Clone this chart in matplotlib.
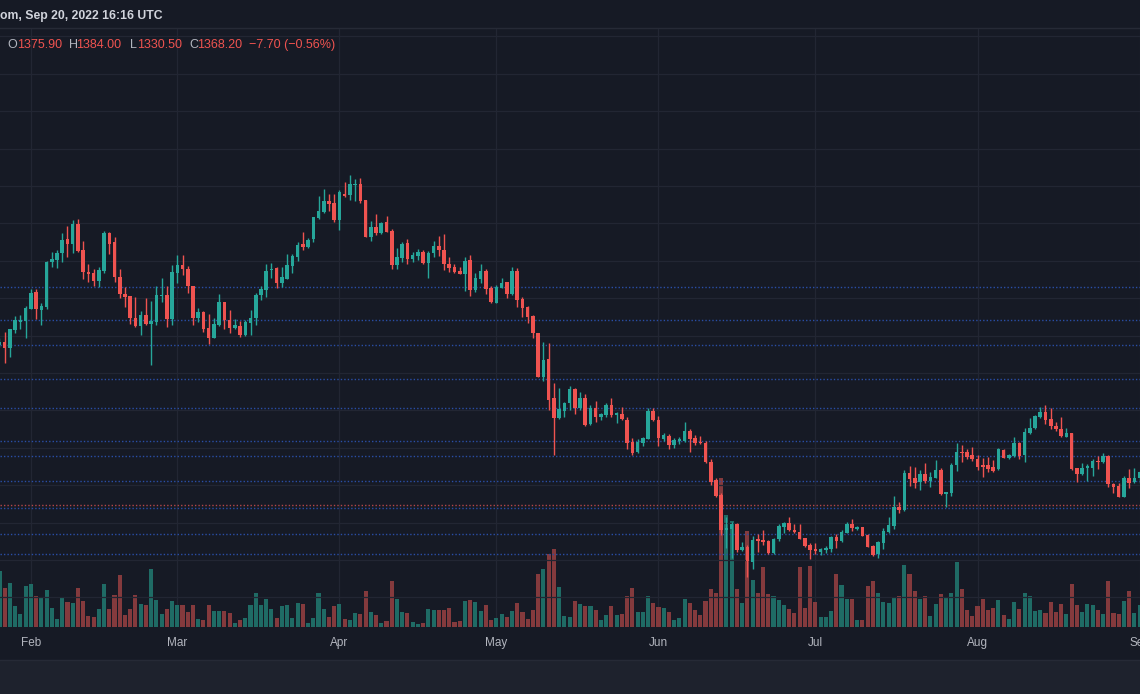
import matplotlib
matplotlib.use('Agg')
import matplotlib.pyplot as plt
from matplotlib.patches import Rectangle
import numpy as np
import pandas as pd

# ETH/USD daily, Jan 26 - Sep 1 2022
dates = pd.date_range('2022-01-26', '2022-09-01', freq='D')

opens = [2437, 2460, 2420, 2538, 2591, 2598, 2680, 2792, 2669, 2694, 2990, 3008, 3050, 3144, 3115, 3244, 3072, 2923, 2919, 2865,
         2932, 3184, 3126, 2892, 2776, 2763, 2620, 2564, 2638, 2575, 2593, 2765, 2774, 2611, 2916, 2970, 2945, 2832, 2616, 2660,
         2549, 2486, 2569, 2725, 2602, 2553, 2567, 2504, 2587, 2616, 2769, 2805, 2936, 2954, 2852, 2881, 2965, 3028, 3112, 3095,
         3144, 3284, 3324, 3398, 3386, 3273, 3449, 3438, 3507, 3516, 3404, 3159, 3224, 3184, 3259, 3202, 2974, 3017, 3119, 3012,
         3034, 3059, 2983, 3050, 3099, 3072, 2981, 2959, 2932, 2914, 3005, 2805, 2881, 2932, 2816, 2720, 2821, 2856, 2776, 2934,
         2743, 2691, 2631, 2515, 2221, 2341, 2081, 1947, 1998, 2047, 2143, 2014, 2085, 1909, 2014, 1954, 1969, 2036, 1972, 1974,
         1938, 1789, 1724, 1785, 1811, 1998, 1936, 1807, 1831, 1769, 1798, 1798, 1862, 1813, 1789, 1785, 1658, 1535, 1435, 1201,
         1205, 1239, 1067, 1089, 989, 1138, 1134, 1129, 1045, 1138, 1223, 1245, 1201, 1190, 1145, 1101, 1074, 1056, 1067, 1076,
         1152, 1129, 1183, 1241, 1210, 1219, 1167, 1094, 1038, 1112, 1185, 1227, 1357, 1335, 1579, 1546, 1519, 1575, 1530, 1548,
         1602, 1441, 1450, 1637, 1724, 1724, 1702, 1678, 1633, 1633, 1620, 1608, 1735, 1684, 1698, 1780, 1702, 1847, 1880, 1954,
         1987, 1940, 1898, 1878, 1825, 1849, 1613, 1575, 1617, 1617, 1664, 1658, 1695, 1508, 1495, 1424, 1551, 1524, 1551]
highs = [2482, 2522, 2544, 2631, 2638, 2700, 2809, 2812, 2720, 3001, 3057, 3072, 3188, 3233, 3273, 3277, 3135, 2981, 2943, 2961,
         3197, 3190, 3157, 2943, 2827, 2767, 2760, 2667, 2749, 2734, 2832, 2883, 2832, 2972, 3037, 3041, 2965, 2832, 2682, 2665,
         2642, 2616, 2776, 2727, 2671, 2609, 2600, 2604, 2671, 2787, 2834, 2979, 2983, 2961, 2961, 3046, 3046, 3124, 3190, 3150,
         3295, 3433, 3480, 3447, 3444, 3473, 3525, 3576, 3545, 3551, 3406, 3268, 3311, 3262, 3302, 3210, 3088, 3128, 3144, 3057,
         3077, 3072, 3068, 3132, 3166, 3179, 3028, 2976, 2961, 3023, 3037, 2916, 2976, 2945, 2834, 2838, 2883, 2856, 2961, 2950,
         2758, 2698, 2638, 2520, 2455, 2448, 2181, 2148, 2059, 2163, 2148, 2121, 2110, 2036, 2063, 1985, 2047, 2085, 1987, 2021,
         1958, 1818, 1807, 1825, 2014, 2014, 1963, 1847, 1840, 1813, 1825, 1920, 1874, 1834, 1831, 1798, 1678, 1546, 1450, 1290,
         1257, 1245, 1123, 1101, 1161, 1174, 1201, 1134, 1150, 1239, 1257, 1285, 1239, 1241, 1150, 1112, 1116, 1083, 1094, 1161,
         1174, 1201, 1257, 1274, 1227, 1223, 1174, 1101, 1127, 1212, 1290, 1428, 1390, 1602, 1629, 1624, 1602, 1646, 1591, 1669,
         1613, 1457, 1646, 1785, 1767, 1740, 1753, 1702, 1680, 1691, 1669, 1747, 1742, 1709, 1825, 1791, 1885, 1947, 1969, 2025,
         2036, 2018, 1925, 1958, 1880, 1849, 1617, 1646, 1642, 1673, 1695, 1718, 1702, 1517, 1513, 1562, 1606, 1617, 1595]
lows = [2426, 2319, 2359, 2520, 2542, 2482, 2676, 2611, 2569, 2676, 2961, 2954, 2994, 3028, 3054, 3061, 2876, 2856, 2834, 2827,
        2916, 3046, 2858, 2754, 2694, 2578, 2560, 2504, 2573, 2301, 2571, 2727, 2555, 2571, 2850, 2905, 2783, 2571, 2593, 2526,
        2444, 2482, 2564, 2544, 2520, 2542, 2493, 2500, 2504, 2571, 2738, 2760, 2883, 2816, 2823, 2876, 2916, 3001, 3072, 3083,
        3128, 3277, 3317, 3335, 3262, 3206, 3429, 3406, 3402, 3384, 3159, 3135, 3173, 3179, 3190, 2943, 2948, 2994, 2976, 2992,
        3005, 2979, 2883, 3028, 3032, 2939, 2927, 2916, 2910, 2800, 2765, 2794, 2854, 2778, 2720, 2716, 2816, 2754, 2771, 2689,
        2627, 2587, 2482, 2221, 2199, 2003, 1702, 1943, 1954, 2003, 1974, 2003, 1898, 1903, 1925, 1936, 1958, 1958, 1914, 1936,
        1740, 1702, 1718, 1762, 1807, 1932, 1762, 1798, 1740, 1751, 1776, 1791, 1724, 1767, 1776, 1651, 1502, 1424, 1167, 1078,
        1016, 1056, 1063, 884, 938, 1056, 1101, 1040, 1040, 1129, 1183, 1196, 1179, 1138, 1089, 1005, 1040, 1034, 1045, 1056,
        1078, 1123, 1179, 1196, 1201, 1161, 1085, 1029, 1011, 1074, 1179, 1205, 1317, 1330, 1495, 1479, 1468, 1517, 1490, 1546,
        1435, 1357, 1428, 1595, 1658, 1673, 1664, 1602, 1557, 1591, 1586, 1602, 1680, 1675, 1691, 1673, 1658, 1842, 1874, 1947,
        1909, 1874, 1865, 1820, 1825, 1602, 1524, 1568, 1530, 1562, 1606, 1651, 1490, 1446, 1419, 1419, 1479, 1513, 1513]
closes = [2460, 2420, 2542, 2604, 2604, 2687, 2787, 2676, 2698, 2992, 3012, 3052, 3137, 3115, 3244, 3066, 2925, 2912, 2865, 2936,
          3184, 3115, 2892, 2778, 2760, 2616, 2562, 2638, 2575, 2598, 2769, 2774, 2611, 2923, 2974, 2943, 2829, 2616, 2660, 2542,
          2486, 2578, 2725, 2604, 2553, 2569, 2504, 2589, 2620, 2774, 2812, 2934, 2948, 2850, 2892, 2970, 3034, 3106, 3095, 3141,
          3295, 3333, 3398, 3380, 3273, 3458, 3433, 3516, 3516, 3400, 3159, 3224, 3184, 3255, 3195, 2970, 3023, 3112, 3012, 3037,
          3059, 2983, 3054, 3099, 3072, 2979, 2952, 2925, 2914, 2999, 2805, 2887, 2934, 2812, 2722, 2823, 2850, 2776, 2934, 2740,
          2687, 2627, 2515, 2226, 2339, 2070, 1947, 2007, 2052, 2143, 2018, 2085, 1903, 2016, 1954, 1976, 2039, 1969, 1981, 1940,
          1785, 1718, 1791, 1816, 1998, 1936, 1818, 1834, 1769, 1802, 1809, 1860, 1807, 1785, 1780, 1653, 1524, 1428, 1201, 1212,
          1239, 1067, 1089, 996, 1134, 1129, 1123, 1045, 1143, 1227, 1245, 1201, 1187, 1141, 1096, 1067, 1058, 1072, 1083, 1152,
          1129, 1185, 1241, 1212, 1221, 1163, 1089, 1031, 1118, 1196, 1234, 1357, 1335, 1579, 1542, 1517, 1575, 1530, 1553, 1602,
          1439, 1453, 1635, 1724, 1715, 1686, 1678, 1624, 1620, 1608, 1597, 1740, 1684, 1702, 1780, 1698, 1856, 1885, 1963, 1987,
          1936, 1896, 1874, 1831, 1849, 1606, 1573, 1617, 1629, 1662, 1655, 1695, 1506, 1490, 1424, 1551, 1517, 1551, 1588]
volumes = [167, 117, 133, 62, 40, 123, 130, 92, 88, 112, 58, 23, 88, 75, 72, 118, 77, 32, 29, 55,
           128, 53, 97, 155, 35, 53, 97, 70, 65, 173, 80, 40, 55, 77, 65, 67, 45, 65, 23, 22,
           65, 47, 47, 48, 43, 13, 22, 28, 67, 103, 65, 85, 53, 27, 62, 67, 28, 72, 70, 13,
           27, 102, 53, 30, 62, 70, 25, 22, 43, 40, 107, 45, 35, 13, 17, 137, 83, 45, 43, 15,
           10, 13, 53, 50, 52, 50, 58, 15, 17, 77, 82, 74, 47, 65, 20, 27, 40, 30, 47, 73,
           45, 25, 52, 158, 173, 218, 233, 120, 32, 30, 78, 70, 62, 62, 50, 20, 35, 62, 35, 38,
           93, 118, 45, 45, 92, 73, 60, 57, 45, 22, 27, 83, 73, 52, 35, 77, 113, 102, 448, 335,
           317, 113, 72, 288, 140, 102, 180, 100, 93, 80, 65, 53, 43, 180, 57, 182, 75, 30, 30, 47,
           158, 125, 83, 83, 20, 22, 123, 137, 102, 75, 72, 88, 93, 185, 158, 108, 83, 92, 32, 70,
           100, 88, 103, 195, 113, 52, 32, 62, 85, 52, 58, 80, 35, 23, 75, 53, 103, 92, 48, 50,
           43, 75, 45, 70, 38, 130, 65, 45, 70, 67, 52, 38, 137, 43, 40, 77, 108, 43, 65]

levels = [2827, 2607, 2435, 2208, 2018, 1793, 1693, 1526, 1350, 1172, 1040]
last_close = 1368.20
month_labels = ['Feb', 'Mar', 'Apr', 'May', 'Jun', 'Jul', 'Aug', 'Sep']

bg = '#161a25'
up = '#26a69a'
down = '#ef5350'
up_vol = '#1f6b65'
down_vol = '#843a3d'
grid = '#222633'

W, H = 1140, 694
fig = plt.figure(figsize=(W / 100, H / 100), dpi=100)
fig.patch.set_facecolor(bg)

rect = [0, (H - 627) / H, 1, (627 - 28) / H]
vax = fig.add_axes(rect)
ax = fig.add_axes(rect)
vax.set_facecolor(bg)
ax.set_facecolor('none')

x = np.arange(len(dates))
o = np.array(opens, float)
c = np.array(closes, float)
hi = np.array(highs, float)
lo = np.array(lows, float)
rising = c >= o
cols = np.where(rising, up, down)

xlim = (0.1, 218.07)

# volume pane
vax.bar(x, volumes, width=0.78, color=np.where(rising, up_vol, down_vol), zorder=2)
vax.set_xlim(*xlim)
vax.set_ylim(0, 1797)

# grid
ax.set_xlim(*xlim)
ax.set_ylim(552.4, 4556.1)
for p in range(750, 4750, 250):
    ax.axhline(p, color=grid, lw=0.9, zorder=0)
first_days = [i for i, d in enumerate(dates) if d.day == 1]
for i in first_days:
    vax.axvline(i, color=grid, lw=0.9, zorder=0)

# levels
for lv in levels:
    ax.axhline(lv, color='#2a4ea6', lw=1.0, ls=(0, (1, 1.5)), zorder=1)
ax.axhline(last_close, color='#b5474a', lw=1.0, ls=(0, (1, 1.5)), zorder=1)

# candles
ax.vlines(x, lo, hi, colors=cols, lw=1.0, zorder=3)
body = np.maximum(np.abs(c - o), 6)
ax.bar(x, body, bottom=np.minimum(o, c), width=0.68, color=cols, zorder=4, linewidth=0)

for a in (ax, vax):
    for s in a.spines.values():
        s.set_visible(False)
    a.tick_params(left=False, right=False, labelleft=False, labelright=False)
vax.set_xticks([])
ax.set_xticks([])

# month labels on the time scale, baseline aligned
lab_y = -(646 - 627) / (627 - 28)
for i, lab in zip(first_days, month_labels):
    ax.text(i, lab_y, lab, transform=ax.get_xaxis_transform(), ha='center', va='baseline',
            fontsize=8.5, color='#b2b5be', family='Liberation Sans', clip_on=False)

# header and footer
fig.add_artist(plt.Line2D([0, 1], [1 - 28 / H, 1 - 28 / H], transform=fig.transFigure, color='#262a36', lw=1))
fig.add_artist(Rectangle((0, 0), 1, 34 / H, transform=fig.transFigure, color='#1e222d', zorder=0))
fig.add_artist(plt.Line2D([0, 1], [34 / H, 34 / H], transform=fig.transFigure, color='#262a36', lw=1))

fig.text(0, 1 - 16 / H, 'om, Sep 20, 2022 16:16 UTC', ha='left', va='center',
         color='#d1d4dc', fontsize=8.8, fontweight='bold', family='Liberation Sans')

pieces = [(7, 'O', '#b2b5be'), (17, '1375.90', down), (69, 'H', '#b2b5be'), (76, '1384.00', down),
          (130, 'L', '#b2b5be'), (137, '1330.50', down), (189, 'C', '#b2b5be'), (197, '1368.20', down),
          (249, '\u22127.70 (\u22120.56%)', down)]
for px, txt, col in pieces:
    fig.text(px / W, 1 - 45 / H, txt, ha='left', va='center', color=col, fontsize=9, family='Liberation Sans')

fig.savefig('out.png', dpi=100, facecolor=fig.get_facecolor())
